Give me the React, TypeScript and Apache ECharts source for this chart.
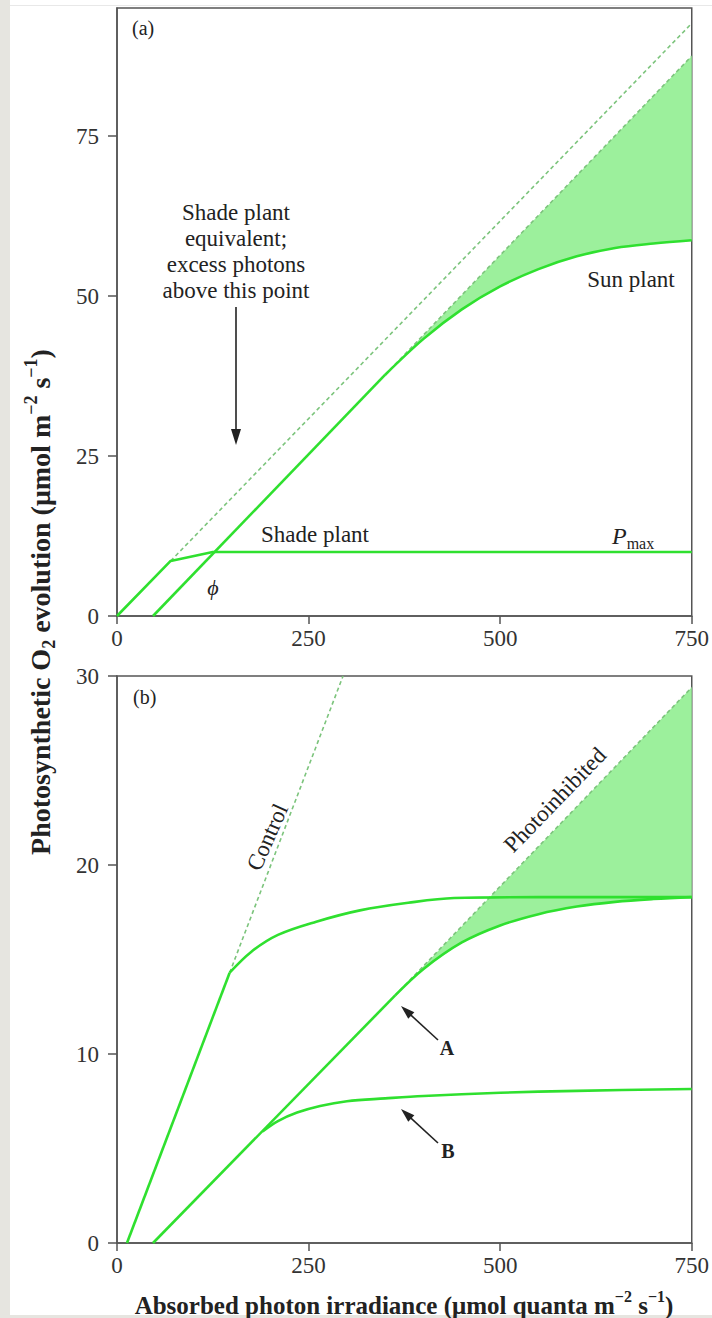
import React, { useEffect, useRef } from 'react';
import * as echarts from 'echarts';

type Pt = [number, number];

// ---------- tick labels ----------
const xTicks = [0, 250, 500, 750];
const yTicksA = [0, 25, 50, 75];
const yTicksB = [0, 10, 20, 30];

// ---------- panel (a) ----------
const shadePlant: Pt[] = [[0, 0], [70, 8.6], [125, 10], [750, 10]];
const shadeEquivalent: Pt[] = [[70, 8.6], [750, 92.6]];
const sunLinear: Pt[] = [[47, 0], [350, 37.7]];
const sunCurve: Pt[] = [[350, 37.7], [400, 43.3], [450, 47.9], [500, 51.5], [550, 54.2], [600, 56.2], [650, 57.5], [700, 58.2], [750, 58.7]];
const sunPotential: Pt[] = [[350, 37.7], [750, 87.5]];

// ---------- panel (b) ----------
const controlLinear: Pt[] = [[13, 0], [147, 14.3]];
const controlCurve: Pt[] = [[147, 14.3], [175, 15.4], [210, 16.3], [260, 17.0], [317, 17.6], [380, 18.0], [440, 18.25], [550, 18.3], [750, 18.3]];
const controlPotential: Pt[] = [[147, 14.3], [295, 30]];
const inhibitedLinear: Pt[] = [[47, 0], [363, 13.1]];
const inhibitedPotential: Pt[] = [[363, 13.1], [750, 29.4]];
const curveA: Pt[] = [[363, 13.1], [400, 14.5], [450, 15.9], [500, 16.8], [550, 17.4], [600, 17.8], [650, 18.05], [700, 18.2], [750, 18.3]];
const curveB: Pt[] = [[190, 5.9], [210, 6.45], [235, 6.9], [265, 7.25], [300, 7.5], [350, 7.65], [400, 7.78], [500, 7.95], [600, 8.05], [750, 8.15]];

const GREEN = '#2fe02f';
const DASH = '#7cc47c';
const FILL = '#9cf09c';
const AXIS = '#555';
const SERIF = "'Liberation Serif', 'Times New Roman', serif";
const TXT = '#222';

function solid(data: Pt[], gi: number, smooth = false) {
  return {
    type: 'line', xAxisIndex: gi, yAxisIndex: gi, data, symbol: 'none', smooth: smooth ? 0.35 : false,
    lineStyle: { color: GREEN, width: 2.6 }, z: 4, silent: true,
  };
}
function dashed(data: Pt[], gi: number) {
  return {
    type: 'line', xAxisIndex: gi, yAxisIndex: gi, data, symbol: 'none',
    lineStyle: { color: DASH, width: 1.6, type: [4, 3] }, z: 3, silent: true,
  };
}
function band(upper: Pt[], lower: Pt[], gi: number) {
  const pts = [...upper, ...lower.slice().reverse()];
  return {
    type: 'custom', xAxisIndex: gi, yAxisIndex: gi, data: [[0, 0]], silent: true, z: 1,
    renderItem: (_p: any, api: any) => ({
      type: 'polygon',
      shape: { points: pts.map((p) => api.coord(p)) },
      style: { fill: FILL, stroke: null },
    }),
  };
}

function txt(text: string, x: number, y: number, size: number, extra: any = {}, rotation = 0, align = 'center') {
  return {
    type: 'text', x, y, rotation, z: 10, silent: true,
    style: {
      text, x: 0, y: 0, fill: TXT, fontFamily: SERIF, fontSize: size,
      align, verticalAlign: 'middle', textAlign: align, textVerticalAlign: 'middle',
      ...extra,
    },
  };
}

function arrow(x1: number, y1: number, x2: number, y2: number, head = 13, halfW = 4.5) {
  const dx = x2 - x1, dy = y2 - y1, L = Math.hypot(dx, dy);
  const ux = dx / L, uy = dy / L;
  const bx = x2 - ux * head, by = y2 - uy * head;
  return [
    { type: 'line', z: 10, silent: true, shape: { x1, y1, x2: bx + ux * 2, y2: by + uy * 2 }, style: { stroke: TXT, lineWidth: 1.6 } },
    {
      type: 'polygon', z: 10, silent: true,
      shape: { points: [[x2, y2], [bx - uy * halfW, by + ux * halfW], [bx + uy * halfW, by - ux * halfW]] },
      style: { fill: TXT },
    },
  ];
}

function xAxis(gi: number) {
  return {
    type: 'value', gridIndex: gi, min: 0, max: 750, interval: 250,
    axisLine: { show: true, lineStyle: { color: AXIS, width: 1.5 } },
    axisTick: { show: true, length: 8, lineStyle: { color: AXIS, width: 1.5 }, customValues: xTicks },
    axisLabel: { fontFamily: SERIF, fontSize: 23, color: '#333', margin: 11, customValues: xTicks },
    splitLine: { show: false },
  };
}
function yAxis(gi: number, max: number, interval: number, ticks: number[]) {
  return {
    type: 'value', gridIndex: gi, min: 0, max, interval,
    axisLine: { show: true, lineStyle: { color: AXIS, width: 1.5 } },
    axisTick: { show: true, length: 9, lineStyle: { color: AXIS, width: 1.5 }, customValues: ticks },
    axisLabel: {
      fontFamily: SERIF, fontSize: 23, color: '#333', margin: 18, customValues: ticks,
      formatter: (v: number) => (ticks.indexOf(v) >= 0 ? String(v) : ''),
    },
    splitLine: { show: false },
  };
}

function titleRich(size: number, small: number) {
  return {
    t: { fontFamily: SERIF, fontSize: size, fontWeight: 'bold', lineHeight: size + 8, fill: TXT, verticalAlign: 'middle' },
    sup: { fontFamily: SERIF, fontSize: small, fontWeight: 'bold', lineHeight: small, fill: TXT, verticalAlign: 'top' },
    sub: { fontFamily: SERIF, fontSize: small, fontWeight: 'bold', lineHeight: small, fill: TXT, verticalAlign: 'bottom' },
  };
}

export default function App() {
  const ref = useRef<HTMLDivElement>(null);
  useEffect(() => {
    if (!ref.current) return;
    const chart = echarts.init(ref.current, undefined, { renderer: 'svg' });
    const option: any = {
      animation: false,
      backgroundColor: '#ffffff',
      grid: [
        { left: 117, top: 8, width: 575, height: 608, show: true, borderColor: AXIS, borderWidth: 1.5, backgroundColor: 'transparent' },
        { left: 117, top: 676, width: 575, height: 567, show: true, borderColor: AXIS, borderWidth: 1.5, backgroundColor: 'transparent' },
      ],
      xAxis: [xAxis(0), xAxis(1)],
      yAxis: [yAxis(0, 95, 25, yTicksA), yAxis(1, 30, 10, yTicksB)],
      series: [
        band(sunPotential, sunCurve, 0),
        dashed(shadeEquivalent, 0),
        dashed(sunPotential, 0),
        solid(shadePlant, 0),
        solid(sunLinear, 0),
        solid(sunCurve, 0, true),
        band(inhibitedPotential, curveA, 1),
        dashed(controlPotential, 1),
        dashed(inhibitedPotential, 1),
        solid(controlLinear, 1),
        solid(controlCurve, 1, true),
        solid(inhibitedLinear, 1),
        solid(curveA, 1, true),
        solid(curveB, 1, true),
      ],
      graphic: [
        { type: 'rect', silent: true, z: 0, shape: { x: 0, y: 0, width: 10, height: 1318 }, style: { fill: '#e6e5e0' } },
        { type: 'rect', silent: true, z: 0, shape: { x: 10, y: 5, width: 702, height: 1 }, style: { fill: '#e8e8e8' } },
        { type: 'rect', silent: true, z: 0, shape: { x: 10, y: 1315, width: 702, height: 3 }, style: { fill: '#e6e5e0' } },
        txt('(a)', 132, 28, 20, {}, 0, 'left'),
        txt('Shade plant\nequivalent;\nexcess photons\nabove this point', 236, 251, 23, { lineHeight: 26 }),
        ...arrow(236, 307, 236, 445, 16, 5),
        txt('Shade plant', 315, 534, 23),
        {
          type: 'text', x: 612, y: 536, z: 10, silent: true,
          style: {
            text: '{p|P}{s|max}', x: 0, y: 0, align: 'left', verticalAlign: 'middle',
            rich: {
              p: { fontFamily: SERIF, fontSize: 24, fontStyle: 'italic', lineHeight: 30, fill: TXT, verticalAlign: 'middle' },
              s: { fontFamily: SERIF, fontSize: 16, lineHeight: 16, fill: TXT, verticalAlign: 'bottom' },
            },
          },
        },
        txt('ϕ', 213, 587, 22, { fontStyle: 'italic' }),
        txt('Sun plant', 631, 279, 23),
        txt('(b)', 133, 697, 20, {}, 0, 'left'),
        txt('Control', 267, 837, 23, {}, (66 * Math.PI) / 180),
        txt('Photoinhibited', 555, 800, 23, {}, (46 * Math.PI) / 180),
        ...arrow(438, 1040, 401, 1006, 14, 4.5),
        txt('A', 447, 1048, 20, { fontWeight: 'bold' }),
        ...arrow(438, 1143, 401, 1109, 14, 4.5),
        txt('B', 448, 1151, 20, { fontWeight: 'bold' }),
        {
          type: 'text', x: 404, y: 1305, z: 10, silent: true,
          style: {
            text: '{t|Absorbed photon irradiance (μmol quanta m}{sup|−2}{t| s}{sup|−1}{t|)}',
            x: 0, y: 0, align: 'center', verticalAlign: 'middle', rich: titleRich(25, 16),
          },
        },
        {
          type: 'text', x: 40, y: 602, z: 10, silent: true, rotation: Math.PI / 2,
          style: {
            text: '{t|Photosynthetic O}{sub|2}{t| evolution (μmol m}{sup|−2}{t| s}{sup|−1}{t|)}',
            x: 0, y: 0, align: 'center', verticalAlign: 'middle', rich: titleRich(28, 18),
          },
        },
      ],
    };
    chart.setOption(option);
    return () => chart.dispose();
  }, []);
  return <div ref={ref} style={{ position: 'absolute', left: 0, top: 0, width: 712, height: 1318 }} />;
}
